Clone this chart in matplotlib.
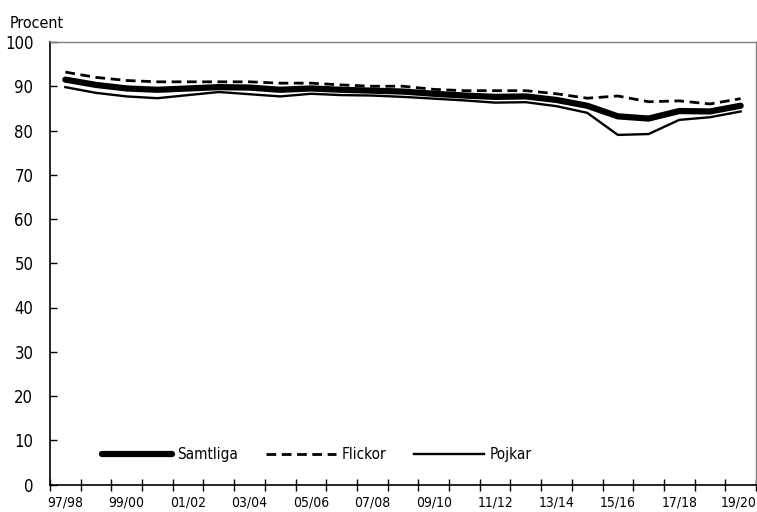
import matplotlib
matplotlib.use("Agg")
import matplotlib.pyplot as plt
import matplotlib.transforms as mtransforms
import numpy as np

plt.rcParams['font.family'] = ['DejaVu Sans']
plt.rcParams['font.stretch'] = 'condensed'

years = ["97/98", "98/99", "99/00", "00/01", "01/02", "02/03", "03/04", "04/05",
         "05/06", "06/07", "07/08", "08/09", "09/10", "10/11", "11/12", "12/13",
         "13/14", "14/15", "15/16", "16/17", "17/18", "18/19", "19/20"]

samtliga = [91.5, 90.3, 89.5, 89.2, 89.5, 89.8, 89.7, 89.2, 89.5, 89.2, 89.0, 88.8,
            88.3, 87.9, 87.6, 87.7, 86.9, 85.6, 83.2, 82.7, 84.4, 84.3, 85.6]
flickor = [93.2, 92.0, 91.3, 91.0, 91.0, 91.0, 91.0, 90.7, 90.7, 90.3, 90.0, 90.0,
           89.3, 89.0, 89.0, 89.0, 88.3, 87.3, 87.8, 86.5, 86.7, 86.0, 87.2]
pojkar = [89.8, 88.5, 87.7, 87.3, 88.0, 88.7, 88.2, 87.7, 88.3, 88.0, 87.9, 87.6,
          87.2, 86.8, 86.3, 86.4, 85.5, 84.0, 79.0, 79.2, 82.4, 83.0, 84.3]

fig = plt.figure(figsize=(7.57, 5.12), dpi=100)
ax = fig.add_axes([50 / 757, 1 - 484.5 / 512, 706 / 757, 442.5 / 512])

x = np.arange(len(years)) + 0.5
ax.plot(x, samtliga, color='black', lw=4.5, solid_capstyle='round',
        solid_joinstyle='round', label='Samtliga')
ax.plot(x, flickor, color='black', lw=2.0, dashes=(3.5, 2), label='Flickor')
ax.plot(x, pojkar, color='black', lw=1.7, label='Pojkar')

ax.set_xlim(0, len(years))
ax.set_ylim(0, 100)

# ticks at the category boundaries, labels every other category centre
ax.set_xticks(np.arange(len(years) + 1))
ax.set_xticklabels([])
ax.set_xticks(x[::2], minor=True)
ax.set_xticklabels(years[::2], minor=True)
ax.tick_params(axis='x', which='major', direction='inout', length=9, width=1)
ax.tick_params(axis='x', which='minor', length=0, labelsize=10, pad=8)

# keep the last label inside the figure
last = ax.get_xticklabels(minor=True)[-1]
last.set_ha('right')
last.set_transform(last.get_transform() +
                   mtransforms.ScaledTranslation(16 / 100, 0, fig.dpi_scale_trans))

ax.set_yticks(np.arange(0, 101, 10))
ax.tick_params(axis='y', direction='in', length=5, width=1, labelsize=12, pad=12)

for side in ['top', 'right']:
    ax.spines[side].set_color('#808080')
    ax.spines[side].set_linewidth(1)
ax.spines['left'].set_linewidth(1.2)
ax.spines['bottom'].set_linewidth(1.2)

fig.text(10 / 757, 1 - 28 / 512, "Procent", fontsize=11.5, ha='left', va='baseline')

leg = ax.legend(loc='lower left', bbox_to_anchor=(0.054, 0.02), ncol=3,
                frameon=False, handlelength=4.6, handletextpad=0.35,
                columnspacing=1.8, fontsize=11)

fig.savefig("out.png", dpi=100)
